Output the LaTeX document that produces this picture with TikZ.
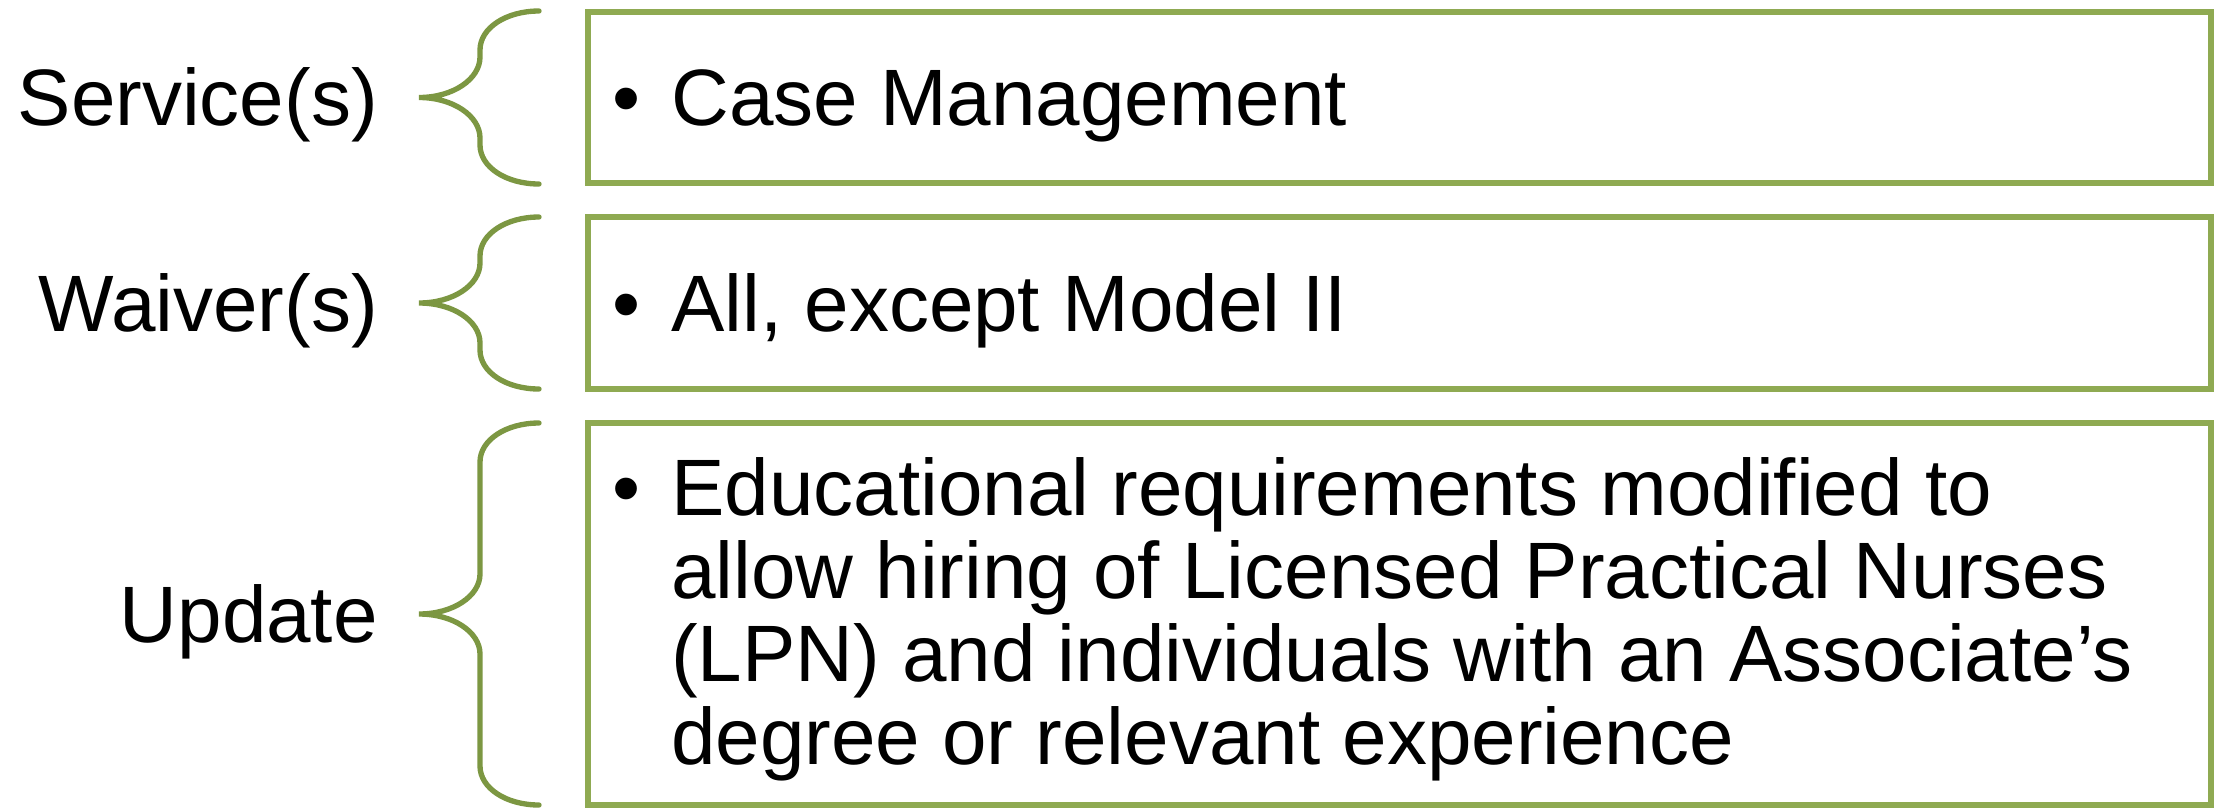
\documentclass[tikz,border=0pt]{standalone}
\usepackage{fontspec}
\setmainfont{Liberation Sans}
\definecolor{boxgreen}{RGB}{143,170,82}
\definecolor{bracegreen}{RGB}{124,151,66}
\tikzset{
  listbox/.style={draw=boxgreen, line width=4pt},
  bracket/.style={draw=bracegreen, line width=4pt, line cap=round},
  itemtext/.style={inner sep=0pt, align=left, font=\fontsize{60}{62.25}\selectfont},
}
\begin{document}
\begin{tikzpicture}[x=0.75pt,y=0.75pt,yscale=-1,xscale=1]
\useasboundingbox (0,0) rectangle (2220,808);

%Shape: Rectangle [id:service]
\draw [listbox] (588,12) -- (2211,12) -- (2211,183) -- (588,183) -- cycle ;
%Shape: Rectangle [id:waiver]
\draw [listbox] (588,217) -- (2211,217) -- (2211,389) -- (588,389) -- cycle ;
%Shape: Rectangle [id:update]
\draw [listbox] (588,423) -- (2211,423) -- (2211,805) -- (588,805) -- cycle ;

%Shape: Brace [id:service]
\draw [bracket] (539,11) .. controls (506,11) and (480,28) .. (480,50) -- (480,57) .. controls (480,79) and (453,97.5) .. (419,97.5) .. controls (453,97.5) and (480,116) .. (480,138) -- (480,145) .. controls (480,167) and (506,184) .. (539,184) ;
%Shape: Brace [id:waiver]
\draw [bracket] (539,217) .. controls (506,217) and (480,234) .. (480,256) -- (480,263) .. controls (480,285) and (453,303) .. (419,303) .. controls (453,303) and (480,321) .. (480,343) -- (480,350) .. controls (480,372) and (506,389) .. (539,389) ;
%Shape: Brace [id:update]
\draw [bracket] (539,423) .. controls (506,423) and (480,440) .. (480,462) -- (480,574) .. controls (480,596) and (453,614) .. (419,614) .. controls (453,614) and (480,632) .. (480,654) -- (480,766) .. controls (480,788) and (506,805) .. (539,805) ;

% Text Node
\node [itemtext, anchor=base east] (svclabel) at (378,125) {Service(s)};
% Text Node
\node [itemtext, anchor=base east] (waivlabel) at (378,331) {Waiver(s)};
% Text Node
\node [itemtext, anchor=base east] (updlabel) at (378,642) {Update};

% Text Node
\node [itemtext, anchor=base] (svcdot) at (626,125) {•};
\node [itemtext, anchor=base west] (svctext) at (671,125) {Case Management};
% Text Node
\node [itemtext, anchor=base] (waivdot) at (626,331) {•};
\node [itemtext, anchor=base west] (waivtext) at (671,331) {All, except Model II};
% Text Node
\node [itemtext, anchor=base] (upddot) at (626,515) {•};
\node [itemtext, anchor=north west] (updtext) at (671,457) {Educational requirements modified to\\allow hiring of Licensed Practical Nurses\\(LPN) and individuals with an Associate’s\\degree or relevant experience};

\end{tikzpicture}
\end{document}
